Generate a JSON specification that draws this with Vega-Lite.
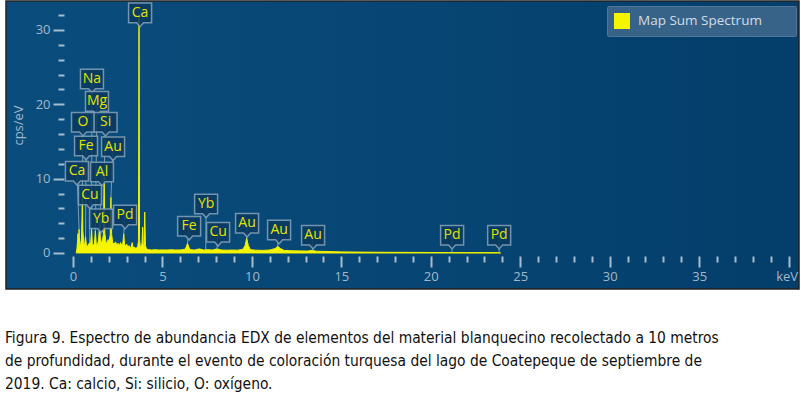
{
  "$schema": "https://vega.github.io/schema/vega-lite/v6.json",
  "width": 793,
  "height": 288,
  "autosize": {"type": "none"},
  "padding": {"left": 6, "top": 1, "right": 2, "bottom": 110},
  "background": "white",
  "title": {
    "text": [
      "Figura 9. Espectro de abundancia EDX de elementos del material blanquecino recolectado a 10 metros",
      "de profundidad, durante el evento de coloración turquesa del lago de Coatepeque de septiembre de",
      "2019. Ca: calcio, Si: silicio, O: oxígeno."
    ],
    "orient": "bottom",
    "anchor": "start",
    "frame": "bounds",
    "font": "DejaVu Sans Condensed",
    "fontSize": 15.4,
    "fontWeight": "normal",
    "color": "#111111",
    "lineHeight": 23,
    "baseline": "top",
    "offset": 42,
    "dx": -1
  },
  "config": {
    "view": {
      "fill": {
        "gradient": "linear",
        "x1": 0, "y1": 0, "x2": 1, "y2": 0,
        "stops": [
          {"offset": 0, "color": "#0a4d7d"},
          {"offset": 1, "color": "#043e6b"}
        ]
      },
      "stroke": "#222222",
      "strokeWidth": 1.5
    },
    "font": "Open Sans"
  },
  "datasets": {
    "spectrum": [
      {"keV": 0.18, "cps": 0}, {"keV": 0.22, "cps": 0.6}, {"keV": 0.26, "cps": 1.8}, {"keV": 0.28, "cps": 2.6},
      {"keV": 0.30, "cps": 1.4}, {"keV": 0.34, "cps": 3.2}, {"keV": 0.37, "cps": 1.2}, {"keV": 0.42, "cps": 1.0},
      {"keV": 0.47, "cps": 2.0}, {"keV": 0.50, "cps": 4.5}, {"keV": 0.525, "cps": 8.0}, {"keV": 0.55, "cps": 3.0},
      {"keV": 0.60, "cps": 1.3}, {"keV": 0.65, "cps": 1.1}, {"keV": 0.70, "cps": 2.2}, {"keV": 0.75, "cps": 1.0},
      {"keV": 0.80, "cps": 0.9}, {"keV": 0.86, "cps": 1.1}, {"keV": 0.93, "cps": 1.4}, {"keV": 0.98, "cps": 1.0},
      {"keV": 1.04, "cps": 3.2}, {"keV": 1.08, "cps": 1.3}, {"keV": 1.14, "cps": 1.0}, {"keV": 1.20, "cps": 1.3},
      {"keV": 1.25, "cps": 3.0}, {"keV": 1.30, "cps": 1.2}, {"keV": 1.36, "cps": 1.1}, {"keV": 1.42, "cps": 1.6},
      {"keV": 1.49, "cps": 3.8}, {"keV": 1.53, "cps": 2.0}, {"keV": 1.58, "cps": 1.4}, {"keV": 1.64, "cps": 1.6},
      {"keV": 1.70, "cps": 2.5}, {"keV": 1.74, "cps": 10.5}, {"keV": 1.78, "cps": 2.6}, {"keV": 1.84, "cps": 1.5},
      {"keV": 1.90, "cps": 1.3}, {"keV": 1.96, "cps": 1.8}, {"keV": 2.02, "cps": 1.6}, {"keV": 2.08, "cps": 2.4},
      {"keV": 2.12, "cps": 7.5}, {"keV": 2.16, "cps": 2.5}, {"keV": 2.22, "cps": 1.4}, {"keV": 2.30, "cps": 1.2},
      {"keV": 2.38, "cps": 1.5}, {"keV": 2.44, "cps": 1.1}, {"keV": 2.52, "cps": 1.3}, {"keV": 2.60, "cps": 1.0},
      {"keV": 2.66, "cps": 1.4}, {"keV": 2.72, "cps": 1.0}, {"keV": 2.78, "cps": 1.2}, {"keV": 2.84, "cps": 2.6},
      {"keV": 2.88, "cps": 1.2}, {"keV": 2.94, "cps": 0.9}, {"keV": 3.00, "cps": 1.2}, {"keV": 3.06, "cps": 0.8},
      {"keV": 3.14, "cps": 1.0}, {"keV": 3.20, "cps": 0.7}, {"keV": 3.26, "cps": 0.9}, {"keV": 3.31, "cps": 1.4},
      {"keV": 3.36, "cps": 0.7}, {"keV": 3.44, "cps": 0.8}, {"keV": 3.50, "cps": 0.6}, {"keV": 3.56, "cps": 0.7},
      {"keV": 3.62, "cps": 0.9}, {"keV": 3.66, "cps": 1.6}, {"keV": 3.69, "cps": 32}, {"keV": 3.72, "cps": 1.8},
      {"keV": 3.76, "cps": 0.9}, {"keV": 3.82, "cps": 0.8}, {"keV": 3.86, "cps": 1.4}, {"keV": 3.89, "cps": 3.5},
      {"keV": 3.92, "cps": 1.0}, {"keV": 3.97, "cps": 1.2}, {"keV": 4.01, "cps": 5.5}, {"keV": 4.05, "cps": 1.0},
      {"keV": 4.10, "cps": 0.6}, {"keV": 4.20, "cps": 0.45}, {"keV": 4.40, "cps": 0.4}, {"keV": 4.60, "cps": 0.45},
      {"keV": 4.80, "cps": 0.4}, {"keV": 5.00, "cps": 0.42}, {"keV": 5.25, "cps": 0.4}, {"keV": 5.50, "cps": 0.44},
      {"keV": 5.75, "cps": 0.4}, {"keV": 6.00, "cps": 0.42}, {"keV": 6.25, "cps": 0.5}, {"keV": 6.33, "cps": 0.8},
      {"keV": 6.40, "cps": 1.3}, {"keV": 6.47, "cps": 0.8}, {"keV": 6.55, "cps": 0.45}, {"keV": 6.80, "cps": 0.4},
      {"keV": 7.06, "cps": 0.55}, {"keV": 7.30, "cps": 0.4}, {"keV": 7.50, "cps": 0.45}, {"keV": 7.80, "cps": 0.4},
      {"keV": 8.04, "cps": 0.55}, {"keV": 8.30, "cps": 0.4}, {"keV": 8.60, "cps": 0.38}, {"keV": 8.90, "cps": 0.4},
      {"keV": 9.20, "cps": 0.38}, {"keV": 9.50, "cps": 0.5}, {"keV": 9.62, "cps": 1.0}, {"keV": 9.71, "cps": 2.0},
      {"keV": 9.80, "cps": 1.0}, {"keV": 9.92, "cps": 0.45}, {"keV": 10.2, "cps": 0.38}, {"keV": 10.6, "cps": 0.35},
      {"keV": 11.0, "cps": 0.4}, {"keV": 11.3, "cps": 0.6}, {"keV": 11.44, "cps": 0.9}, {"keV": 11.6, "cps": 0.6},
      {"keV": 11.8, "cps": 0.35}, {"keV": 12.2, "cps": 0.3}, {"keV": 12.7, "cps": 0.28}, {"keV": 13.1, "cps": 0.26},
      {"keV": 13.38, "cps": 0.35}, {"keV": 13.6, "cps": 0.24}, {"keV": 14.2, "cps": 0.2}, {"keV": 15.0, "cps": 0.15},
      {"keV": 16.0, "cps": 0.12}, {"keV": 17.0, "cps": 0.1}, {"keV": 18.0, "cps": 0.09}, {"keV": 19.0, "cps": 0.08},
      {"keV": 20.0, "cps": 0.07}, {"keV": 21.0, "cps": 0.06}, {"keV": 22.0, "cps": 0.05}, {"keV": 23.0, "cps": 0.05},
      {"keV": 23.8, "cps": 0.04}, {"keV": 23.9, "cps": 0}
    ],
    "labels": [
      {"el": "Ca", "e": 3.69, "h": 31, "lx": 3.75, "ly": 32.3},
      {"el": "Na", "e": 1.04, "h": 3.2, "lx": 1.06, "ly": 23.4},
      {"el": "Mg", "e": 1.25, "h": 3.0, "lx": 1.34, "ly": 20.4},
      {"el": "O", "e": 0.525, "h": 8.0, "lx": 0.56, "ly": 17.6},
      {"el": "Si", "e": 1.74, "h": 10.5, "lx": 1.82, "ly": 17.6},
      {"el": "Fe", "e": 0.70, "h": 2.2, "lx": 0.73, "ly": 14.4},
      {"el": "Au", "e": 2.12, "h": 7.5, "lx": 2.24, "ly": 14.3},
      {"el": "Ca", "e": 0.34, "h": 3.2, "lx": 0.22, "ly": 11.0},
      {"el": "Al", "e": 1.49, "h": 3.8, "lx": 1.62, "ly": 10.9},
      {"el": "Cu", "e": 0.93, "h": 1.4, "lx": 0.95, "ly": 7.8},
      {"el": "Yb", "e": 1.52, "h": 2.2, "lx": 1.57, "ly": 4.6},
      {"el": "Pd", "e": 2.84, "h": 2.6, "lx": 2.91, "ly": 5.1},
      {"el": "Fe", "e": 6.40, "h": 1.3, "lx": 6.49, "ly": 3.6},
      {"el": "Yb", "e": 7.42, "h": 0.45, "lx": 7.44, "ly": 6.6},
      {"el": "Cu", "e": 8.05, "h": 0.55, "lx": 8.11, "ly": 2.8},
      {"el": "Au", "e": 9.71, "h": 2.0, "lx": 9.73, "ly": 4.0},
      {"el": "Au", "e": 11.44, "h": 0.9, "lx": 11.52, "ly": 3.1},
      {"el": "Au", "e": 13.38, "h": 0.35, "lx": 13.42, "ly": 2.4},
      {"el": "Pd", "e": 21.18, "h": 0.06, "lx": 21.19, "ly": 2.4},
      {"el": "Pd", "e": 23.82, "h": 0.04, "lx": 23.82, "ly": 2.4}
    ]
  },
  "resolve": {"axis": {"x": "independent", "y": "independent"}},
  "layer": [
    {
      "data": {"name": "spectrum"},
      "transform": [{"calculate": "'Map Sum Spectrum'", "as": "series"}],
      "mark": {"type": "area", "interpolate": "linear", "strokeWidth": 1, "stroke": "#f2f200"},
      "encoding": {
        "x": {
          "field": "keV", "type": "quantitative",
          "scale": {"domain": [-3.745, 40.58], "nice": false, "zero": false},
          "axis": {
            "orient": "bottom", "offset": -33, "domain": false, "grid": false,
            "values": [1,2,3,4,6,7,8,9,11,12,13,14,16,17,18,19,21,22,23,24,26,27,28,29,31,32,33,34,36,37,38,39],
            "tickSize": 6, "tickWidth": 2, "tickColor": "#a7bccd", "labels": false, "title": null
          }
        },
        "y": {
          "field": "cps", "type": "quantitative",
          "scale": {"domain": [-4.843, 33.9], "nice": false, "zero": false},
          "axis": {
            "orient": "left", "offset": -58, "domain": false, "grid": false,
            "values": [2,4,6,8,12,14,16,18,22,24,26,28,32],
            "tickSize": 6, "tickWidth": 2, "tickColor": "#a7bccd", "labels": false, "title": null
          }
        },
        "y2": {"datum": 0},
        "color": {
          "field": "series", "type": "nominal",
          "scale": {"range": ["#f5f500"]},
          "legend": {
            "orient": "none", "legendX": 601, "legendY": 5,
            "title": "MM", "titleOrient": "right", "titleOpacity": 0, "titlePadding": 2, "titleFontSize": 13,
            "symbolType": "square", "symbolSize": 256, "symbolStrokeWidth": 0, "symbolOpacity": 1,
            "labelFontSize": 13.5, "labelColor": "#d3dce5", "labelFont": "Open Sans", "labelOffset": 8, "labelLimit": 300,
            "fillColor": "#386389", "strokeColor": "#4d7699", "padding": 7, "cornerRadius": 1
          }
        }
      }
    },
    {
      "data": {"name": "labels"},
      "mark": {"type": "rule", "color": "#a3b6c6", "strokeWidth": 1, "opacity": 0.75},
      "encoding": {
        "x": {
          "field": "lx", "type": "quantitative",
          "axis": {
            "orient": "bottom", "offset": -33, "domain": false, "grid": false,
            "values": [0,5,10,15,20,25,30,35,40],
            "tickSize": 11, "tickWidth": 2, "tickColor": "#a7bccd",
            "labelFontSize": 13,
            "labelAlign": {"condition": {"test": "datum.value === 40", "value": "right"}, "value": "center"},
            "labelOffset": {"condition": {"test": "datum.value === 40", "value": 9}, "value": 0},
            "labelColor": "#a3b8ca", "labelPadding": 3, "labelFont": "Open Sans",
            "labelExpr": "datum.value === 40 ? 'keV' : datum.label",
            "labelFlush": false, "title": null
          }
        },
        "y": {
          "field": "ly", "type": "quantitative",
          "axis": {
            "orient": "left", "offset": -58, "domain": false, "grid": false,
            "values": [0,10,20,30],
            "tickSize": 11, "tickWidth": 2, "tickColor": "#a7bccd",
            "labelFontSize": 13, "labelColor": "#a3b8ca", "labelPadding": 3, "labelFont": "Open Sans",
            "title": "cps/eV", "titleFontSize": 13, "titleFontWeight": "normal", "titleColor": "#a3b8ca",
            "titleFont": "Open Sans", "titleX": -46, "titleY": 124, "titleAngle": -90, "titleBaseline": "middle", "titleAlign": "center"
          }
        },
        "x2": {"field": "e"},
        "y2": {"field": "h"}
      }
    },
    {
      "data": {"name": "labels"},
      "mark": {
        "type": "point", "filled": true, "fill": "#0a3a60", "fillOpacity": 0.88,
        "stroke": "#7f9db6", "strokeWidth": 1.5, "strokeOpacity": 0.9,
        "shape": "M-1,-0.85H1V0.85H0.3L0,1.2L-0.3,0.85H-1Z", "size": 529
      },
      "encoding": {
        "x": {"field": "lx", "type": "quantitative", "axis": null},
        "y": {"field": "ly", "type": "quantitative", "axis": null}
      }
    },
    {
      "data": {"name": "labels"},
      "mark": {"type": "text", "color": "#e3e300", "fontSize": 14, "font": "Open Sans", "align": "center", "baseline": "middle"},
      "encoding": {
        "x": {"field": "lx", "type": "quantitative", "axis": null},
        "y": {"field": "ly", "type": "quantitative", "axis": null},
        "text": {"field": "el"}
      }
    }
  ]
}
